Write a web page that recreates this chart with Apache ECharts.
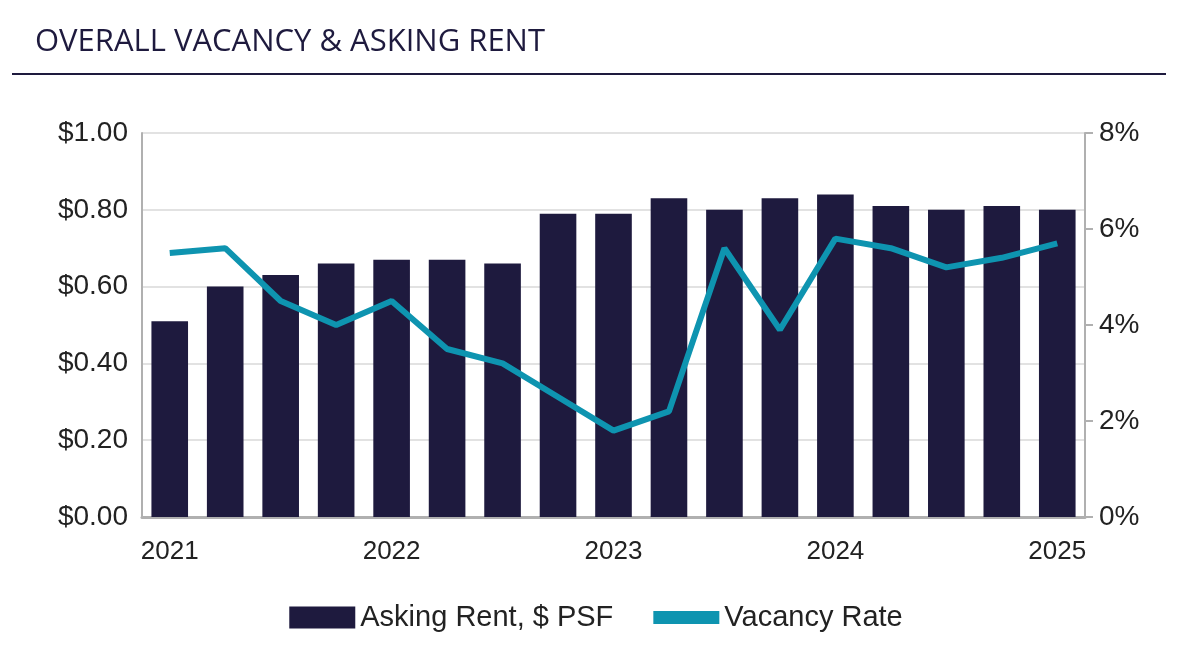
<!DOCTYPE html>
<html><head><meta charset="utf-8">
<script src="https://cdn.jsdelivr.net/npm/echarts@6/dist/echarts.min.js"></script>
<style>body{margin:0;background:#fff}#c{width:1192px;height:661px}</style>
</head><body><div id="c"></div>
<script>
const quarters = ['2021 Q1','2021 Q2','2021 Q3','2021 Q4','2022 Q1','2022 Q2','2022 Q3','2022 Q4','2023 Q1','2023 Q2','2023 Q3','2023 Q4','2024 Q1','2024 Q2','2024 Q3','2024 Q4','2025 Q1'];
const askingRent = [0.51,0.60,0.63,0.66,0.67,0.67,0.66,0.79,0.79,0.83,0.80,0.83,0.84,0.81,0.80,0.81,0.80];
const vacancy = [5.5,5.6,4.5,4.0,4.5,3.5,3.2,2.5,1.8,2.2,5.6,3.9,5.8,5.6,5.2,5.4,5.7];

const chart = echarts.init(document.getElementById('c'));
const font = 'Liberation Sans, Arial, sans-serif';
chart.setOption({
  animation: false,
  title: { text: 'OVERALL VACANCY & ASKING RENT', left: 30, top: 22,
    textStyle: { fontFamily: 'Open Sans, sans-serif', fontWeight: 'normal', fontSize: 31, color: '#1e1a3e' } },
  graphic: [{ type: 'line', shape: { x1: 12, y1: 74, x2: 1166, y2: 74 }, style: { stroke: '#1e1a3e', lineWidth: 2 } }],
  grid: { left: 142, right: 107, top: 133, bottom: 144 },
  legend: { bottom: 24, itemGap: 40, itemWidth: 66, itemHeight: 22,
    textStyle: { fontFamily: font, fontSize: 29, color: '#222' },
    data: [{ name: 'Asking Rent, $ PSF', icon: 'rect' }, { name: 'Vacancy Rate', icon: 'path://M0,0H10V2H0Z' }] },
  xAxis: { type: 'category', data: quarters,
    axisLine: { lineStyle: { color: '#b0b0b0', width: 3 } },
    axisTick: { interval: 0, length: 10, lineStyle: { color: '#b0b0b0', width: 2 } },
    axisLabel: { interval: (i) => i % 4 === 0, formatter: v => v.slice(0, 4),
      fontFamily: font, fontSize: 26, color: '#222', margin: 22 } },
  yAxis: [
    { type: 'value', min: 0, max: 1, interval: 0.2,
      axisLine: { show: true, lineStyle: { color: '#b0b0b0', width: 2 } },
      splitLine: { lineStyle: { color: '#d9d9d9', width: 1.5 } },
      axisLabel: { formatter: v => '$' + v.toFixed(2), fontFamily: font, fontSize: 28, color: '#222', margin: 14 } },
    { type: 'value', min: 0, max: 8, interval: 2,
      axisLine: { show: true, lineStyle: { color: '#b0b0b0', width: 2 } },
      axisTick: { show: true, length: 8, lineStyle: { color: '#b0b0b0', width: 2 } },
      splitLine: { show: false },
      axisLabel: { formatter: v => v + '%', fontFamily: font, fontSize: 28, color: '#222', margin: 14 } }
  ],
  series: [
    { name: 'Asking Rent, $ PSF', type: 'bar', data: askingRent, barCategoryGap: '34%',
      itemStyle: { color: '#1e1a3e' } },
    { name: 'Vacancy Rate', type: 'line', yAxisIndex: 1, data: vacancy, symbol: 'none',
      lineStyle: { color: '#0e94b0', width: 6 }, itemStyle: { color: '#0e94b0' } }
  ]
});
</script></body></html>
